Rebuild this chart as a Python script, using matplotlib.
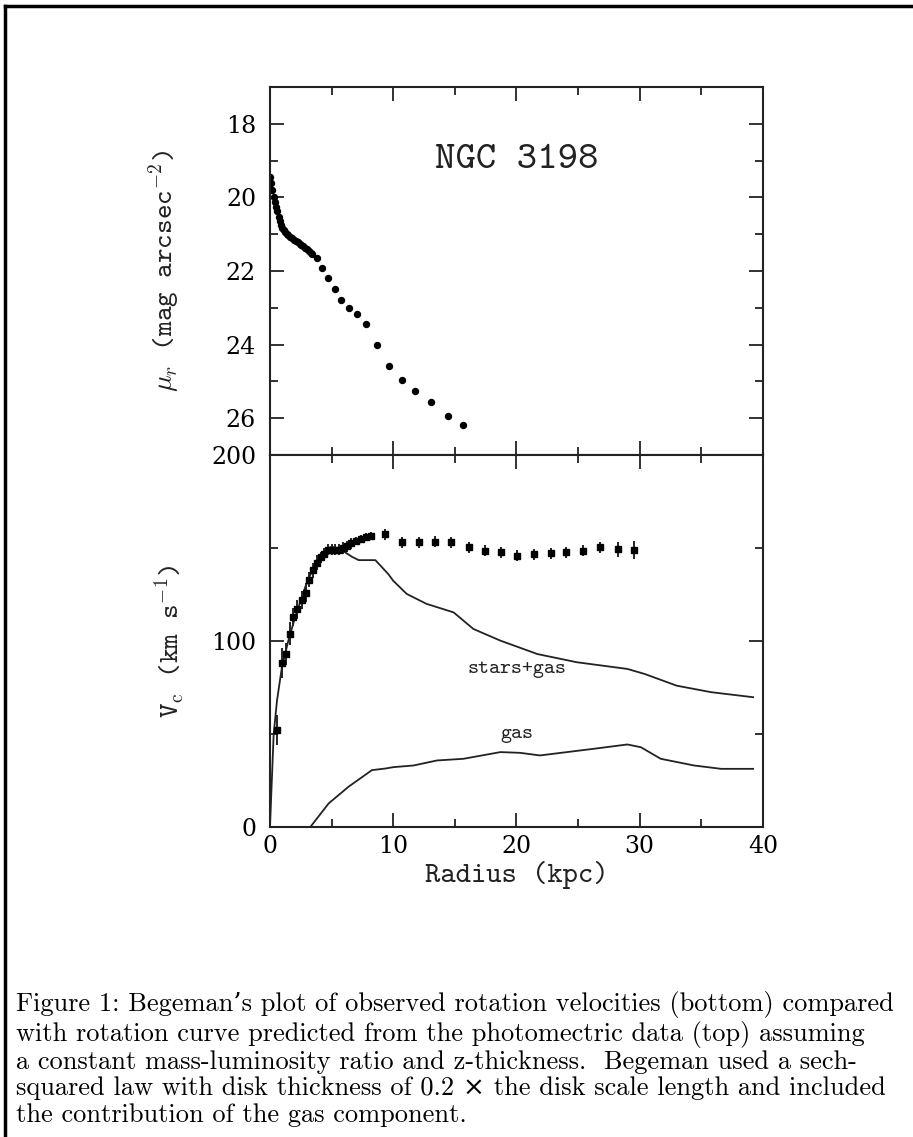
import numpy as np
import matplotlib
matplotlib.use("Agg")
import matplotlib.pyplot as plt
from matplotlib.lines import Line2D
from matplotlib.ticker import MultipleLocator

plt.rcParams['mathtext.fontset'] = 'cm'

#%%
# photometry (top panel)
r_phot = [0.0, 0.1, 0.2, 0.3, 0.4, 0.5, 0.6, 0.7, 0.8, 0.9, 1.0, 1.1, 1.2, 1.35,
          1.5, 1.65, 1.8, 1.95, 2.1, 2.25, 2.4, 2.55, 2.7, 2.85, 3.0, 3.15, 3.3, 3.45,
          3.85, 4.25, 4.74, 5.26, 5.77, 6.42, 7.1, 7.83, 8.67, 9.65, 10.7, 11.79,
          13.03, 14.45, 15.64]
mu_phot = [19.44, 19.62, 19.8, 19.98, 20.12, 20.26, 20.38, 20.52, 20.64, 20.74, 20.82,
           20.88, 20.93, 20.99, 21.03, 21.07, 21.11, 21.15, 21.19, 21.22, 21.26, 21.29,
           21.33, 21.37, 21.41, 21.45, 21.5, 21.55,
           21.65, 21.92, 22.20, 22.50, 22.79, 23.0, 23.18, 23.45, 24.02, 24.59, 24.97,
           25.26, 25.55, 25.94, 26.19]

# observed rotation velocities
r_obs = [0.57, 1.0, 1.3, 1.6, 1.9, 2.2, 2.6, 2.9, 3.2, 3.5, 3.8, 4.1, 4.4, 4.7, 5.0,
         5.3, 5.6, 5.9, 6.25, 6.6, 7.0, 7.4, 7.8, 8.2, 9.35, 10.7, 12.06, 13.36, 14.72,
         16.13, 17.48, 18.76, 20.06, 21.42, 22.77, 24.05, 25.4, 26.78, 28.2, 29.55]
v_obs = [52, 88, 93, 104, 113, 117, 122, 126, 133, 138, 142, 145, 147, 149, 149,
         149, 149, 150, 151, 152.5, 154, 155, 156, 156.5, 157.5, 153, 153, 153.5, 153,
         150.3, 148.5, 147.6, 145.8, 146.7, 147.1, 147.6, 148.5, 150.3, 149.4, 149]
v_err = [8, 8, 6, 6, 5, 5, 5, 5, 4, 4, 4, 3, 3, 3, 3, 3, 3, 3, 3, 3, 2, 2, 2, 2,
         3, 3, 3, 3, 3, 3, 3, 3, 3, 3, 3, 3, 3, 3, 4, 5]

# model curves
r_sg = [0, 0.3, 0.57, 0.97, 1.5, 2.05, 2.86, 3.67, 4.5, 5.0, 5.8, 6.65, 7.2, 8.55,
        9.6, 10.0, 11.1, 12.7, 14.9, 16.5, 18.7, 21.7, 24.9, 29.0, 30.4, 33.0, 35.8, 39.2]
v_sg = [0, 50, 68, 86, 100.5, 113, 129, 141.8, 149, 150.7, 149, 145.3, 143.5, 143.5,
        136, 132.4, 125.3, 120, 115.4, 106.5, 100.2, 93, 88.6, 85, 82.3, 76, 72.5, 69.8]

r_gas = [3.27, 4.76, 6.38, 8.27, 9.4, 10.0, 11.65, 13.55, 15.7, 18.7, 20.3, 21.9,
         24.1, 26.3, 29.0, 30.1, 31.7, 34.4, 36.6, 39.2]
v_gas = [0, 12.7, 21.7, 30.6, 31.5, 32.2, 33.1, 35.8, 36.7, 40.3, 39.9, 38.5,
         40.3, 42.1, 44.4, 42.9, 36.7, 33.1, 31.3, 31.3]

caption = ("Figure 1: Begeman\u2019s plot of observed rotation velocities (bottom) compared\n"
           "with rotation curve predicted from the photomectric data (top) assuming\n"
           "a constant mass-luminosity ratio and z-thickness.  Begeman used a sech-\n"
           "squared law with disk thickness of 0.2 \u00d7 the disk scale length and included\n"
           "the contribution of the gas component.")

#%%
ink = '#222222'
tick_font = dict(family='DejaVu Serif', size=17)
tt = ['cmtt10', 'DejaVu Sans Mono']

fig = plt.figure(figsize=(9.13, 11.37), dpi=100)
ax1 = fig.add_axes([0.2957, 0.5998, 0.540, 0.3237])
ax2 = fig.add_axes([0.2957, 0.2726, 0.540, 0.3272])

for ax in (ax1, ax2):
    ax.set_xlim(0, 40)
    ax.xaxis.set_major_locator(MultipleLocator(10))
    ax.xaxis.set_minor_locator(MultipleLocator(5))
    ax.tick_params(which='both', direction='in', top=True, right=True,
                   color=ink, width=1.3)
    ax.tick_params(which='major', length=10)
    ax.tick_params(which='minor', length=6)
    ax.tick_params(axis='y', which='major', pad=10)
    ax.tick_params(axis='x', which='major', pad=6)
    for s in ax.spines.values():
        s.set_linewidth(1.5)
        s.set_color(ink)

# top panel
ax1.plot(r_phot, mu_phot, 'o', color='black', ms=4.3)
ax1.set_ylim(27, 17)
ax1.yaxis.set_major_locator(MultipleLocator(2))
ax1.yaxis.set_minor_locator(MultipleLocator(1))
ax1.set_yticks([18, 20, 22, 24, 26])
ax1.set_yticklabels(['18', '20', '22', '24', '26'], **tick_font)
ax1.set_xticklabels([])
ax1.text(20, 19.0, 'NGC 3198', family=tt, fontsize=28, ha='center', va='center', color=ink)
ax1.set_ylabel(r'$\mu_r$ (mag arcsec$^{-2}$)', family=tt, fontsize=20, color=ink, labelpad=32)

# bottom panel
ax2.errorbar(r_obs, v_obs, yerr=v_err, fmt='s', color='black', ms=4.2,
             elinewidth=1.2, capsize=0)
ax2.plot(r_sg, v_sg, '-', color=ink, lw=1.3)
ax2.plot(r_gas, v_gas, '-', color=ink, lw=1.3)
ax2.set_ylim(0, 200)
ax2.yaxis.set_major_locator(MultipleLocator(100))
ax2.yaxis.set_minor_locator(MultipleLocator(50))
ax2.set_yticks([0, 100, 200])
ax2.set_yticklabels(['0', '100', '200'], **tick_font)
ax2.set_xticks([0, 10, 20, 30, 40])
ax2.set_xticklabels(['0', '10', '20', '30', '40'], **tick_font)
ax2.text(20, 85, 'stars+gas', family=tt, fontsize=15, ha='center', va='center',
         color=ink, fontweight='bold')
ax2.text(20, 50, 'gas', family=tt, fontsize=15, ha='center', va='center',
         color=ink, fontweight='bold')
ax2.set_ylabel(r'V$_{\rm c}$ (km s$^{-1}$)', family=tt, fontsize=20, color=ink, labelpad=18)
ax2.set_xlabel('Radius (kpc)', family=tt, fontsize=21, color=ink, labelpad=2)

# page frame (left and top edges)
fig.add_artist(Line2D([0.0055, 0.0055], [0.0, 0.9945], color='black', lw=2.5,
                      transform=fig.transFigure))
fig.add_artist(Line2D([0.0055, 1.0], [0.9945, 0.9945], color='black', lw=2.5,
                      transform=fig.transFigure))

fig.text(0.018, 0.0686, caption, family=['cmr10', 'DejaVu Serif'], fontsize=19,
         ha='left', va='center', linespacing=1.13, color='black')

fig.savefig('out.png', dpi=100)
